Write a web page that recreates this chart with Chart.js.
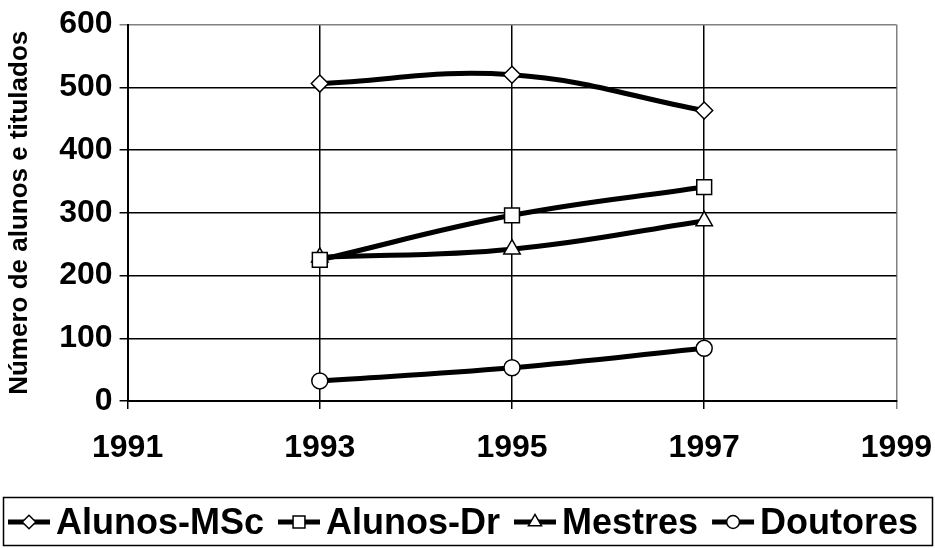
<!DOCTYPE html>
<html>
<head>
<meta charset="utf-8">
<script src="https://cdn.jsdelivr.net/npm/chart.js@4/dist/chart.umd.min.js"></script>
<style>
  html, body { margin: 0; padding: 0; background: #fff; }
  #c { display: block; }
</style>
</head>
<body>
<canvas id="c" width="935" height="548"></canvas>
<script>
// Anos observados
const years = [1993, 1995, 1997];

// Séries
const alunosMSc = [506, 520, 463];
const alunosDr  = [225, 296, 341];
const mestres   = [229, 242, 287];
const doutores  = [32, 53, 84];

const seriesLabels = ['Alunos-MSc', 'Alunos-Dr', 'Mestres', 'Doutores'];
const yTitle = 'Número de alunos e titulados';

const FONT = '"Liberation Sans", Arial, sans-serif';

function pts(vals) { return years.map((x, i) => ({ x: x, y: vals[i] })); }

const markerStyle = [
  { pointStyle: 'rectRot', radius: 8.5 },
  { pointStyle: 'rect', radius: 10.5 },
  { pointStyle: 'triangle', radius: 9.5 },
  { pointStyle: 'circle', radius: 8 }
];

const seriesValues = [alunosMSc, alunosDr, mestres, doutores];

const datasets = seriesValues.map((vals, i) => ({
  label: seriesLabels[i],
  data: pts(vals),
  borderColor: '#000',
  borderWidth: 5,
  tension: 0.4,
  pointStyle: markerStyle[i].pointStyle,
  pointRadius: markerStyle[i].radius,
  pointBackgroundColor: '#fff',
  pointBorderColor: '#000',
  pointBorderWidth: 1.5
}));

// Legenda em caixa, desenhada abaixo do gráfico
const boxLegend = {
  id: 'boxLegend',
  afterDraw(chart) {
    const ctx = chart.ctx;
    const box = { l: 3, t: 497, r: 932, b: 545 };
    ctx.save();
    ctx.strokeStyle = '#000';
    ctx.lineWidth = 1.5;
    ctx.strokeRect(box.l + 0.5, box.t + 0.5, box.r - box.l, box.b - box.t);

    const fontSize = 36;
    ctx.font = 'bold ' + fontSize + 'px ' + FONT;
    const sampleW = 42, gapIn = 6, gapOut = 14;
    let x = box.l + 5;
    const cy = (box.t + box.b) / 2 + 1;
    chart.data.datasets.forEach((ds, i) => {
      if (i) x += gapOut;
      ctx.strokeStyle = '#000';
      ctx.lineWidth = 5;
      ctx.beginPath();
      ctx.moveTo(x, cy);
      ctx.lineTo(x + sampleW, cy);
      ctx.stroke();
      ctx.fillStyle = '#fff';
      ctx.strokeStyle = '#000';
      ctx.lineWidth = 1.5;
      Chart.helpers.drawPoint(ctx, {
        pointStyle: ds.pointStyle,
        radius: ds.pointRadius * 0.8,
        borderWidth: 1.5,
        rotation: 0
      }, x + sampleW / 2, cy);
      x += sampleW + gapIn;
      ctx.fillStyle = '#000';
      ctx.textBaseline = 'middle';
      ctx.textAlign = 'left';
      ctx.fillText(ds.label, x, cy + 2);
      x += ctx.measureText(ds.label).width;
    });
    ctx.restore();
  }
};

const gridColor = (ctx, max) => (ctx.tick && ctx.tick.value === max ? '#808080' : '#000');

new Chart(document.getElementById('c'), {
  type: 'line',
  data: { datasets },
  options: {
    responsive: false,
    devicePixelRatio: 1,
    animation: false,
    layout: { padding: { left: 0, right: 0, top: 0, bottom: 61 } },
    plugins: { legend: { display: false }, tooltip: { enabled: false } },
    scales: {
      x: {
        type: 'linear',
        min: 1991,
        max: 1999,
        ticks: {
          stepSize: 2,
          color: '#000',
          padding: 3,
          maxRotation: 0,
          font: { family: FONT, size: 32, weight: 'bold', lineHeight: '72px' },
          callback: v => String(v)
        },
        grid: {
          color: c => gridColor(c, 1999),
          lineWidth: 1.5,
          tickLength: 8
        },
        border: { color: '#000', width: 2 }
      },
      y: {
        min: 0,
        max: 600,
        ticks: {
          stepSize: 100,
          color: '#000',
          padding: 7,
          font: { family: FONT, size: 32, weight: 'bold', lineHeight: 1.1 }
        },
        grid: {
          color: c => gridColor(c, 600),
          lineWidth: 1.5,
          tickLength: 8
        },
        border: { color: '#000', width: 2 },
        title: {
          display: true,
          text: yTitle,
          color: '#000',
          font: { family: FONT, size: 26, weight: 'bold' },
          padding: { top: 4, bottom: 17 }
        }
      }
    }
  },
  plugins: [boxLegend]
});
</script>
</body>
</html>
